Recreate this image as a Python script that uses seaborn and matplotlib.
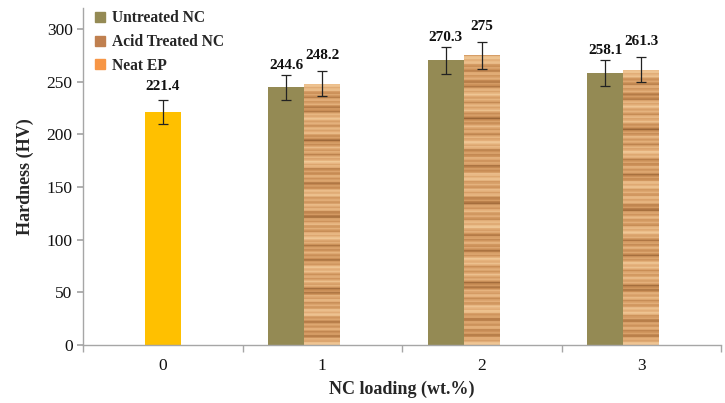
import numpy as np
import pandas as pd
import seaborn as sns
import matplotlib.pyplot as plt
from matplotlib.colors import LinearSegmentedColormap
from matplotlib.lines import Line2D

# categories and values
loadings = ["0", "1", "2", "3"]
treated_loadings = ["1", "2", "3"]
untreated_vals = [244.6, 270.3, 258.1]
untreated_err = [11.7, 12.7, 12.5]
acid_vals = [248.2, 275.0, 261.3]
acid_err = [12.0, 13.0, 12.0]
neat_val = [221.4]
neat_err = [11.2]

series_names = ["Untreated NC", "Acid Treated NC", "_pad"]
colors = {"Untreated NC": "#948A54", "Acid Treated NC": "#D9A066", "_pad": "#FFFFFF"}
legend_colors = ["#948A54", "#C0804F", "#F79646"]
legend_labels = ["Untreated NC", "Acid Treated NC", "Neat EP"]


def wood_texture(n=400):
    # simple deterministic grain pattern for the acid treated bars
    y = np.arange(n)
    v = (0.60 + 0.16 * np.sin(2 * np.pi * y / 7.3) + 0.14 * np.sin(2 * np.pi * y / 23.0 + 1.0)
         + 0.08 * np.sin(2 * np.pi * y / 3.1 + 0.4) + 0.12 * np.sin(2 * np.pi * y / 57.0 + 2.0))
    return np.clip(v, 0, 1)[:, None] * np.ones((1, 20))


def main():
    sns.set_theme(style="white")
    plt.rcParams["font.family"] = ["Liberation Serif", "DejaVu Serif"]

    df = pd.DataFrame({
        "loading": treated_loadings * 2,
        "hardness": untreated_vals + acid_vals,
        "series": ["Untreated NC"] * 3 + ["Acid Treated NC"] * 3,
    })

    fig = plt.figure(figsize=(7.25, 4.03), dpi=100)
    ax = fig.add_axes([83 / 725, 58 / 403, 638 / 725, 337 / 403])

    sns.barplot(data=df, x="loading", y="hardness", hue="series", order=loadings,
                hue_order=series_names, palette=colors, width=0.675, dodge=True,
                errorbar=None, legend=False, saturation=1, linewidth=0, ax=ax)
    sns.barplot(x=["0"], y=neat_val, order=loadings, color="#FFC000", width=0.225,
                errorbar=None, saturation=1, linewidth=0, ax=ax)

    bar_sets = [
        (ax.containers[0], untreated_vals, untreated_err, 3),
        (ax.containers[1], acid_vals, acid_err, 9),
        (ax.containers[-1], neat_val, neat_err, 7),
    ]

    cmap = LinearSegmentedColormap.from_list("wood", ["#8E5A2E", "#C98D55", "#E3AE78", "#F2CB9A"])
    tex = wood_texture()

    for container, vals, errs, off in bar_sets:
        bars = [b for b in container if b.get_height() > 0]
        xs = [b.get_x() + b.get_width() / 2 for b in bars]
        ax.errorbar(xs, vals, yerr=errs, fmt="none", ecolor="#222222",
                    elinewidth=0.9, capsize=3.8, capthick=0.9, zorder=4)
        for x, v, e in zip(xs, vals, errs):
            ax.annotate(f"{v:g}", (x, v + e), xytext=(0, off), textcoords="offset pixels",
                        ha="center", va="bottom", fontsize=11, fontweight="bold", color="#111111")

    # wood grain on acid treated bars
    for b in ax.containers[1]:
        if b.get_height() <= 0:
            continue
        x0, w, h = b.get_x(), b.get_width(), b.get_height()
        im = ax.imshow(tex, cmap=cmap, aspect="auto", extent=(x0, x0 + w, 0, h),
                       origin="lower", zorder=2, interpolation="bilinear")
        im.set_clip_path(b)

    ax.set_xlim(-0.5, 3.5)
    ax.set_ylim(0, 320)
    ax.set_yticks(range(0, 301, 50))

    for s in ["top", "right"]:
        ax.spines[s].set_visible(False)
    for s in ["left", "bottom"]:
        ax.spines[s].set_color("#A6A6A6")
        ax.spines[s].set_linewidth(1.0)

    ax.set_xticks([-0.5, 0.5, 1.5, 2.5, 3.5], minor=True)
    ax.tick_params(axis="x", which="major", length=0, pad=9, labelsize=12.5, colors="#111111")
    ax.tick_params(axis="x", which="minor", length=5, color="#A6A6A6", direction="out", bottom=True)
    ax.tick_params(axis="y", length=4, color="#A6A6A6", direction="out", left=True,
                   labelsize=12.5, labelcolor="#111111")

    ax.set_xlabel("NC loading (wt.%)", fontsize=13, fontweight="bold", labelpad=5)
    ax.set_ylabel("Hardness (HV)", fontsize=13, fontweight="bold", labelpad=9)

    handles = [Line2D([], [], marker="s", linestyle="none", markersize=6.5,
                      markerfacecolor=c, markeredgecolor=c) for c in legend_colors]
    ax.legend(handles, legend_labels, loc="upper left", bbox_to_anchor=(-0.005, 1.035),
              frameon=False, handletextpad=0.35, handlelength=0.8, labelspacing=0.5,
              prop={"weight": "bold", "size": 11.2})

    fig.savefig("out.png", dpi=100)


if __name__ == "__main__":
    main()
